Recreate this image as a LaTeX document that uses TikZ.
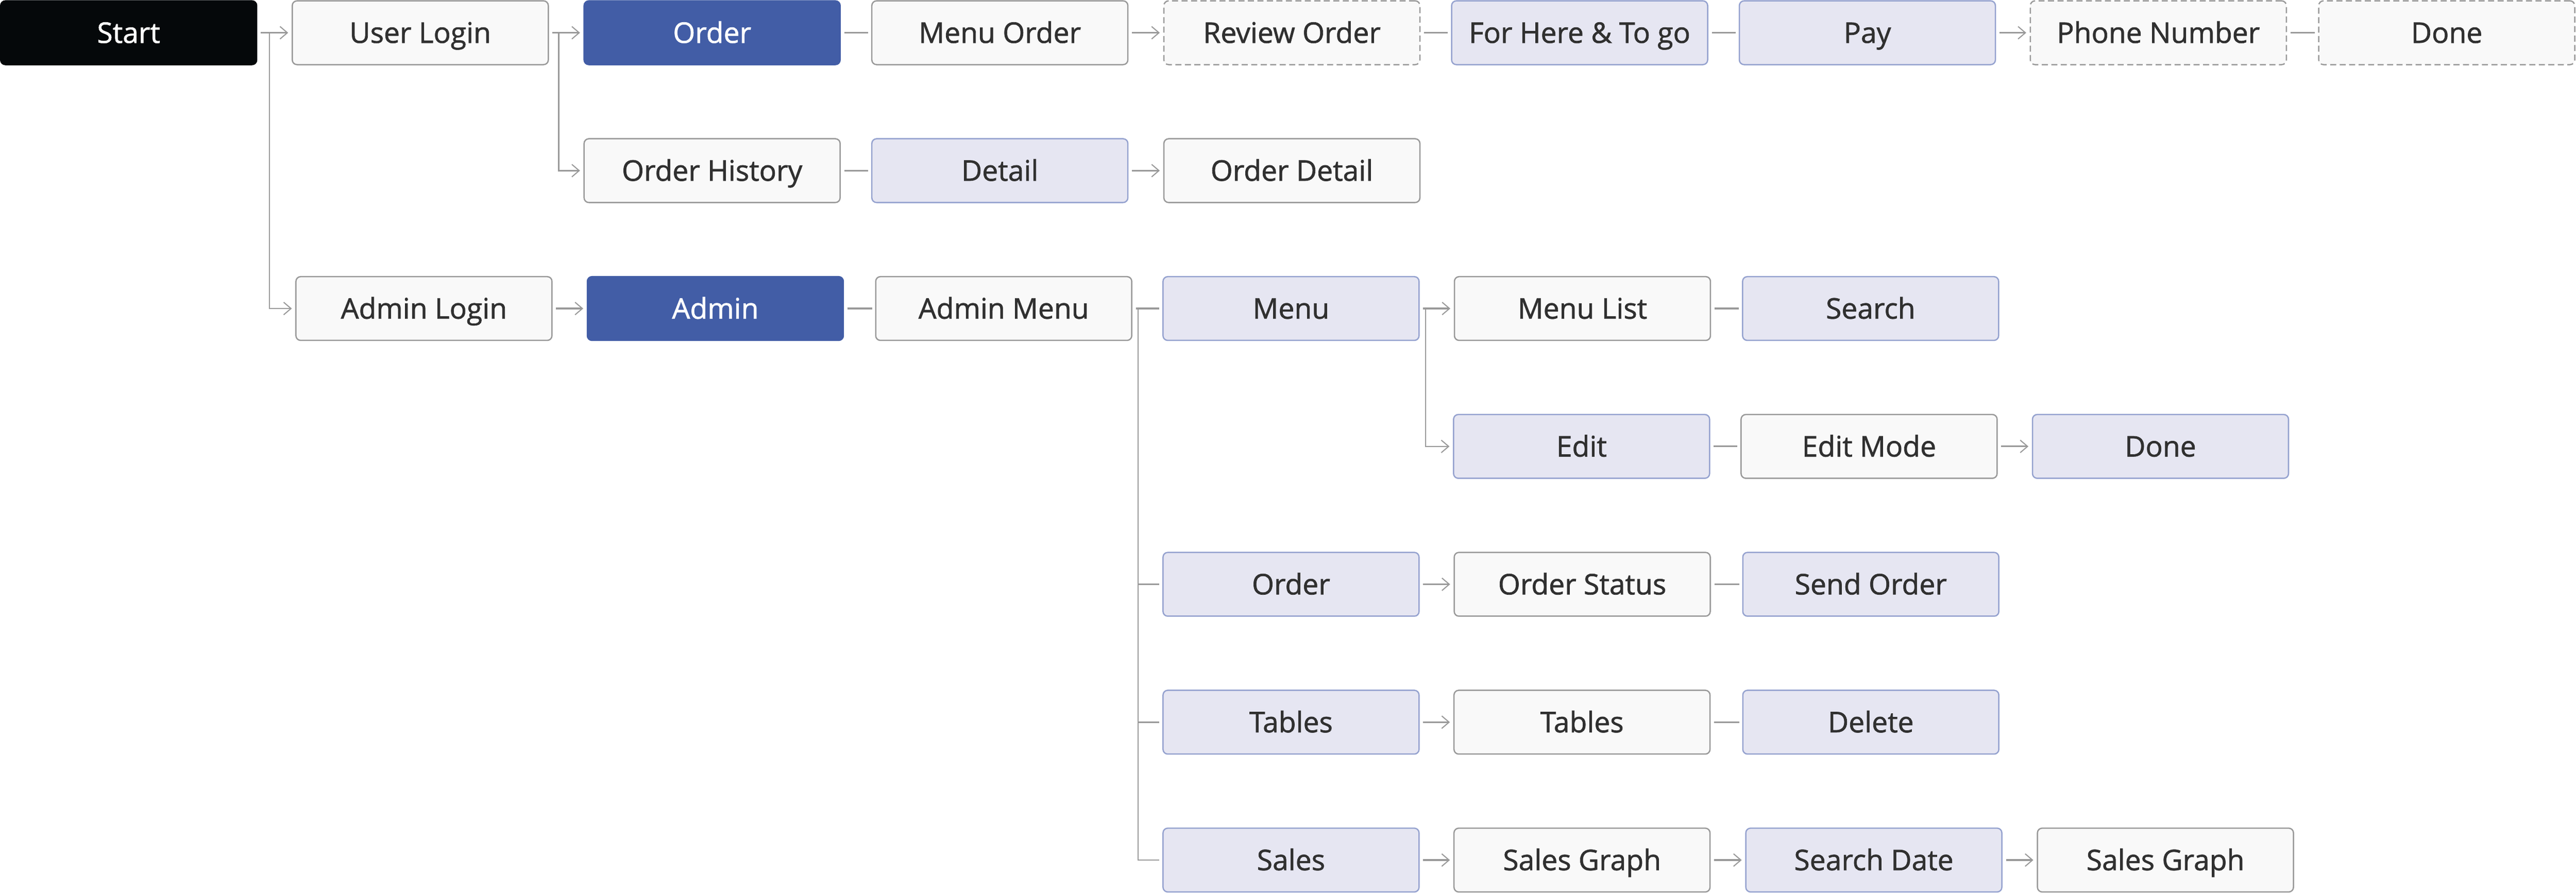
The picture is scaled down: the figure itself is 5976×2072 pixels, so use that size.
\documentclass[tikz,border=0pt]{standalone}
\usepackage{fontspec}
\newfontfamily\lblfont{Open Sans}[FakeBold=1.3]
\usetikzlibrary{arrows.meta}
\definecolor{startfill}{HTML}{05080A}
\definecolor{bluefill}{HTML}{425DA6}
\definecolor{grayfill}{HTML}{F9F9F9}
\definecolor{graydraw}{HTML}{999999}
\definecolor{lavfill}{HTML}{E6E6F2}
\definecolor{lavdraw}{HTML}{95A2CF}
\definecolor{txt}{HTML}{303030}
\tikzset{
  box/.style={rectangle, rounded corners=1.1pt, minimum width=59.4pt, minimum height=14.8pt,
    inner sep=0pt, line width=0.3pt, font=\lblfont\fontsize{6.6}{8}\selectfont, text=txt,
    text height=4.7pt, text depth=0pt},
  blackbox/.style={box, fill=startfill, draw=startfill, text=white},
  bluebox/.style={box, fill=bluefill, draw=bluefill, text=white},
  graybox/.style={box, fill=grayfill, draw=graydraw},
  dashbox/.style={box, fill=grayfill, draw=graydraw, dash pattern=on 1.4pt off 0.8pt},
  lavbox/.style={box, fill=lavfill, draw=lavdraw},
  conn/.style={draw=graydraw, line width=0.4pt, shorten <=0.8pt, shorten >=0.7pt},
  arr/.style={draw=graydraw, line width=0.4pt, shorten <=0.8pt, shorten >=0.8pt,
    -{Straight Barb[length=1.7pt,width=2.9pt,line width=0.25pt]}},
  varr/.style={draw=graydraw, line width=0.3pt, shorten >=0.8pt,
    -{Straight Barb[length=1.7pt,width=2.9pt,line width=0.25pt]}},
  vconn/.style={draw=graydraw, line width=0.3pt, shorten >=0.7pt},
}
\begin{document}
\begin{tikzpicture}[x=0.1pt,y=-0.1pt]
\useasboundingbox (0,0) rectangle (5976,2072);
% row 0
\node[blackbox] (start) at (298.5,76) {Start};
\node[graybox] (ulogin) at (975,76) {User Login};
\node[bluebox] (order) at (1652,76) {Order};
\node[graybox] (menuorder) at (2319.5,76) {Menu Order};
\node[dashbox] (review) at (2997,76) {Review Order};
\node[lavbox] (forhere) at (3664.5,76) {For Here \& To go};
\node[lavbox] (pay) at (4332,76) {Pay};
\node[dashbox] (phone) at (5007,76) {Phone Number};
\node[dashbox] (doneA) at (5676,76) {Done};
% row 1
\node[graybox] (ohist) at (1652,396) {Order History};
\node[lavbox] (detail) at (2319.5,396) {Detail};
\node[graybox] (odetail) at (2997,396) {Order Detail};
% row 2
\node[graybox] (alogin) at (983.5,716) {Admin Login};
\node[bluebox] (admin) at (1659.5,716) {Admin};
\node[graybox] (amenu) at (2328.5,716) {Admin Menu};
\node[lavbox] (menu) at (2995,716) {Menu};
\node[graybox] (menulist) at (3671,716) {Menu List};
\node[lavbox] (search) at (4339.5,716) {Search};
% row 3
\node[lavbox] (edit) at (3669,1036) {Edit};
\node[graybox] (editmode) at (4336,1036) {Edit Mode};
\node[lavbox] (doneB) at (5012,1036) {Done};
% row 4
\node[lavbox] (aorder) at (2995,1356) {Order};
\node[graybox] (ostatus) at (3670.5,1356) {Order Status};
\node[lavbox] (send) at (4340,1356) {Send Order};
% row 5
\node[lavbox] (atables) at (2995,1676) {Tables};
\node[graybox] (tables) at (3670,1676) {Tables};
\node[lavbox] (delete) at (4340,1676) {Delete};
% row 6
\node[lavbox] (sales) at (2995,1996) {Sales};
\node[graybox] (sgraph) at (3670,1996) {Sales Graph};
\node[lavbox] (sdate) at (4347,1996) {Search Date};
\node[graybox] (sgraphB) at (5023.5,1996) {Sales Graph};
% junction coordinates
\coordinate (j1) at (625,76);
\coordinate (j2) at (1296,76);
\coordinate (j3) at (2640,716);
\coordinate (j4) at (3307,716);
% row 0 connectors
\draw[arr] (start) -- (ulogin);
\draw[arr] (ulogin) -- (order);
\draw[conn] (order) -- (menuorder);
\draw[arr] (menuorder) -- (review);
\draw[conn] (review) -- (forhere);
\draw[conn] (forhere) -- (pay);
\draw[arr] (pay) -- (phone);
\draw[conn] (phone) -- (doneA);
% branches
\draw[varr] (j1) |- (alogin);
\draw[varr] (j2) |- (ohist);
\draw[conn] (ohist) -- (detail);
\draw[arr] (detail) -- (odetail);
\draw[arr] (alogin) -- (admin);
\draw[conn] (admin) -- (amenu);
\draw[conn] (amenu) -- (menu);
\draw[vconn] (j3) |- (aorder);
\draw[vconn] (j3) |- (atables);
\draw[vconn] (j3) |- (sales);
\draw[arr] (menu) -- (menulist);
\draw[varr] (j4) |- (edit);
\draw[conn] (menulist) -- (search);
\draw[conn] (edit) -- (editmode);
\draw[arr] (editmode) -- (doneB);
\draw[arr] (aorder) -- (ostatus);
\draw[conn] (ostatus) -- (send);
\draw[arr] (atables) -- (tables);
\draw[conn] (tables) -- (delete);
\draw[arr] (sales) -- (sgraph);
\draw[arr] (sgraph) -- (sdate);
\draw[arr] (sdate) -- (sgraphB);
\end{tikzpicture}
\end{document}
